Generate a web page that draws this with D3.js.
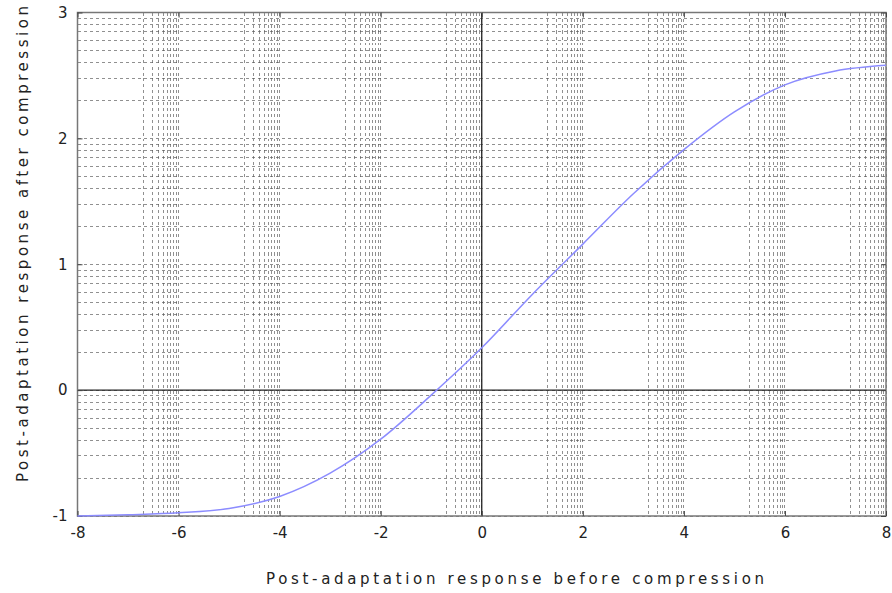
<!DOCTYPE html>
<html>
<head>
<meta charset="utf-8">
<script src="https://cdn.jsdelivr.net/npm/d3@7"></script>
<style>
  body { margin: 0; background: #fff; }
  text { font-family: "DejaVu Sans", sans-serif; fill: #222; }
</style>
</head>
<body>
<div class="chart"></div>
<script>
// values
var xTicks = [-8, -6, -4, -2, 0, 2, 4, 6, 8];
var yTicks = [-1, 0, 1, 2, 3];
var curveX = [-8, -7, -6, -5, -4, -3, -2, -1, 0, 1, 2, 3, 4, 5, 6, 7, 8];
var curveY = [-1.0, -0.99, -0.975, -0.94, -0.845, -0.66, -0.39, -0.04, 0.336, 0.76, 1.16, 1.56, 1.91, 2.21, 2.425, 2.535, 2.58];
var xTitle = "Post-adaptation response before compression";
var yTitle = "Post-adaptation response after compression";

var W = 892, H = 593;
var margin = {top: 12.5, right: 6, bottom: 77, left: 77.5};
var width = W - margin.left - margin.right,
    height = H - margin.top - margin.bottom;

var svg = d3.select(".chart")
  .append("svg")
  .attr("width", W)
  .attr("height", H);

var g = svg.append("g")
  .attr("transform", "translate(" + margin.left + "," + margin.top + ")");

var x = d3.scaleLinear().domain([-8, 8]).range([0, width]);
var y = d3.scaleLinear().domain([-1, 3]).range([height, 0]);

// gnuplot style log minor grid
var logSteps = d3.range(2, 10).map(function(k){ return Math.log10(k) });

var gridX = xTicks.slice();
for (var i = 0; i < xTicks.length - 1; i++) {
  logSteps.forEach(function(s){ gridX.push(xTicks[i] + 1 + s) });
}
var gridY = yTicks.slice();
for (var j = 0; j < yTicks.length - 1; j++) {
  logSteps.forEach(function(s){ gridY.push(yTicks[j] + s) });
}

var grid = g.append("g")
  .attr("stroke", "#555")
  .attr("stroke-opacity", 0.65)
  .attr("stroke-width", 1)
  .attr("stroke-dasharray", "3,3")
  .attr("shape-rendering", "crispEdges");

grid.selectAll(".gx")
  .data(gridX)
  .enter().append("line")
  .attr("class", "gx")
  .attr("x1", function(d){ return x(d) })
  .attr("x2", function(d){ return x(d) })
  .attr("y1", 0)
  .attr("y2", height);

grid.selectAll(".gy")
  .data(gridY)
  .enter().append("line")
  .attr("class", "gy")
  .attr("x1", 0)
  .attr("x2", width)
  .attr("y1", function(d){ return y(d) })
  .attr("y2", function(d){ return y(d) });

// zero axes
g.append("line")
  .attr("x1", x(0)).attr("x2", x(0))
  .attr("y1", 0).attr("y2", height)
  .attr("stroke", "#222").attr("stroke-width", 1.3);
g.append("line")
  .attr("x1", 0).attr("x2", width)
  .attr("y1", y(0)).attr("y2", y(0))
  .attr("stroke", "#222").attr("stroke-width", 1.3);

// border
g.append("rect")
  .attr("x", 0).attr("y", 0)
  .attr("width", width).attr("height", height)
  .attr("fill", "none")
  .attr("stroke", "#777")
  .attr("stroke-width", 1.5);

var fmt = function(d){ return String(d) };

// axes with inward ticks
var xAxis = g.append("g")
  .attr("transform", "translate(0," + height + ")")
  .call(d3.axisBottom(x).tickValues(xTicks).tickFormat(fmt).tickSizeInner(-5).tickSizeOuter(0).tickPadding(11));
var xAxisTop = g.append("g")
  .call(d3.axisTop(x).tickValues(xTicks).tickSizeInner(-5).tickSizeOuter(0).tickFormat(""));
var yAxis = g.append("g")
  .call(d3.axisLeft(y).tickValues(yTicks).tickFormat(fmt).tickSizeInner(-5).tickSizeOuter(0).tickPadding(10));
var yAxisRight = g.append("g")
  .attr("transform", "translate(" + width + ",0)")
  .call(d3.axisRight(y).tickValues(yTicks).tickSizeInner(-5).tickSizeOuter(0).tickFormat(""));

[xAxis, xAxisTop, yAxis, yAxisRight].forEach(function(a){
  a.select(".domain").remove();
  a.selectAll(".tick line").attr("stroke", "#444");
  a.selectAll("text")
    .style("font-family", "DejaVu Sans, sans-serif")
    .style("font-size", "15px")
    .attr("fill", "#222");
});

// curve
var line = d3.line()
  .x(function(d){ return x(d[0]) })
  .y(function(d){ return y(d[1]) })
  .curve(d3.curveMonotoneX);

g.append("path")
  .datum(d3.zip(curveX, curveY))
  .attr("d", line)
  .attr("fill", "none")
  .attr("stroke", "#8c8cff")
  .attr("stroke-width", 1.5);

// titles
svg.append("text")
  .attr("x", 515)
  .attr("y", 584)
  .attr("text-anchor", "middle")
  .attr("textLength", 498)
  .attr("lengthAdjust", "spacing")
  .style("font-size", "15px")
  .text(xTitle);

svg.append("text")
  .attr("transform", "translate(28,244) rotate(-90)")
  .attr("text-anchor", "middle")
  .attr("textLength", 476)
  .attr("lengthAdjust", "spacing")
  .style("font-size", "15px")
  .text(yTitle);
</script>
</body>
</html>
